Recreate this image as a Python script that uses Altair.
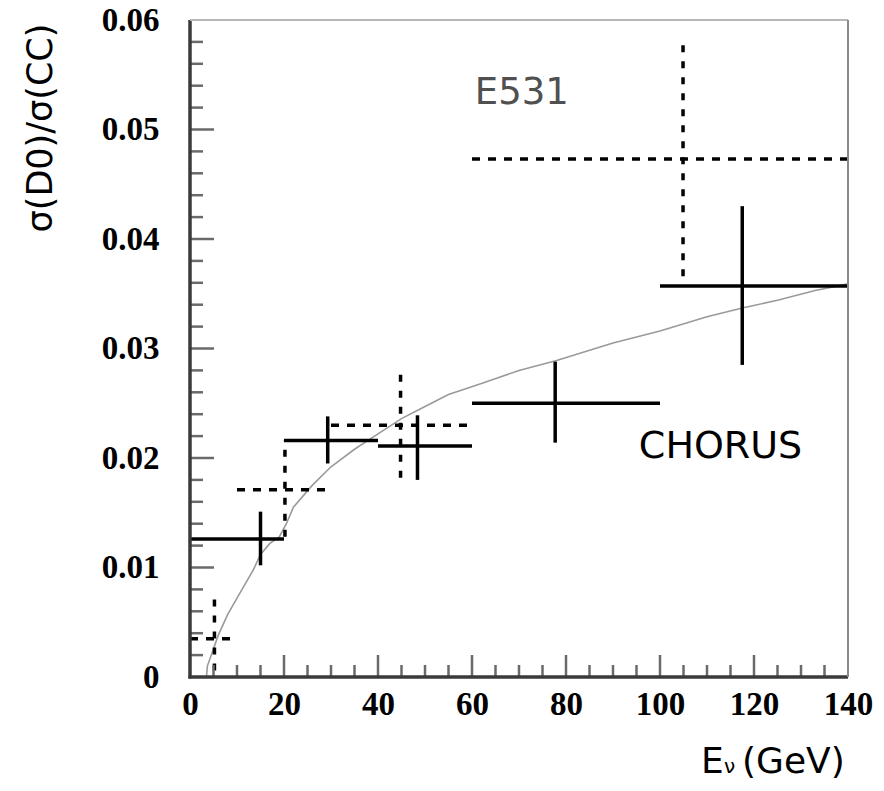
import altair as alt
import pandas as pd

# ---------------- data ----------------
# CHORUS (solid crosses)
chorus_x = [15.0, 29.3, 48.4, 77.7, 117.5]
chorus_xlo = [0, 20, 40, 60, 100]
chorus_xhi = [20, 40, 60, 100, 140]
chorus_y = [0.0126, 0.0216, 0.0211, 0.0250, 0.0357]
chorus_ylo = [0.0102, 0.0195, 0.0180, 0.0214, 0.0285]
chorus_yhi = [0.0151, 0.0238, 0.0239, 0.0288, 0.0430]

# E531 (dashed crosses)
e531_x = [5.2, 20.2, 44.8, 104.9]
e531_xlo = [0, 10, 30, 60]
e531_xhi = [10, 30, 60, 140]
e531_y = [0.0035, 0.0171, 0.0230, 0.0473]
e531_ylo = [0.0006, 0.0128, 0.0182, 0.0366]
e531_yhi = [0.0079, 0.0216, 0.0279, 0.0579]

# theory curve (gray)
curve_x = [3.5, 3.7, 6, 8, 10, 13.5, 15, 17, 19, 20.5, 22, 26, 30, 35, 40, 45,
           50, 55, 62, 70, 78, 90, 100, 110, 117.5, 125, 133, 140]
curve_y = [0.0, 0.0010, 0.0038, 0.0057, 0.0072, 0.0098, 0.0112, 0.0122, 0.0128,
           0.0140, 0.0155, 0.0175, 0.0192, 0.0208, 0.0222, 0.0236, 0.0247, 0.0258,
           0.0268, 0.0280, 0.0289, 0.0305, 0.0316, 0.0329, 0.0337, 0.0344, 0.0353,
           0.0359]

# axis ticks / labels
x_labels = [0, 20, 40, 60, 80, 100, 120, 140]
y_labels = [0, 0.01, 0.02, 0.03, 0.04, 0.05, 0.06]
x_major_ticks = [20, 40, 60, 80, 100, 120]
x_minor_ticks = [5, 10, 15, 25, 30, 35, 45, 50, 55, 65, 70, 75, 85, 90, 95,
                 105, 110, 115, 125, 130, 135]
y_major_ticks = [0.01, 0.02, 0.03, 0.04, 0.05]
y_minor_ticks = [0.002, 0.004, 0.006, 0.008, 0.012, 0.014, 0.016, 0.018,
                 0.022, 0.024, 0.026, 0.028, 0.032, 0.034, 0.036, 0.038,
                 0.042, 0.044, 0.046, 0.048, 0.052, 0.054, 0.056, 0.058]

W, H = 658, 657

chorus = pd.DataFrame(dict(x=chorus_x, xlo=chorus_xlo, xhi=chorus_xhi,
                           y=chorus_y, ylo=chorus_ylo, yhi=chorus_yhi))
e531 = pd.DataFrame(dict(x=e531_x, xlo=e531_xlo, xhi=e531_xhi,
                         y=e531_y, ylo=e531_ylo, yhi=e531_yhi))
curve = pd.DataFrame(dict(x=curve_x, y=curve_y))

xs = alt.Scale(domain=[0, 140], nice=False, zero=False)
ys = alt.Scale(domain=[0, 0.06], nice=False, zero=False)

label_expr = "datum.value == 0 ? '0' : format(datum.value, '.2f')"

xaxis = alt.Axis(values=x_labels, ticks=False, tickSize=0, domain=False, grid=False,
                 labelFont="Liberation Serif", labelFontWeight="bold",
                 labelFontSize=33, labelColor="black", labelPadding=11,
                 labelFlush=False, labelOverlap=False, title=None)
yaxis = alt.Axis(values=y_labels, ticks=False, tickSize=0, domain=False, grid=False,
                 labelFont="Liberation Serif", labelFontWeight="bold",
                 labelFontSize=33, labelColor="black", labelPadding=31,
                 labelExpr=label_expr, labelFlush=False, labelOverlap=False,
                 title=None)

base_curve = alt.Chart(curve).mark_line(color="#9a9a9a", strokeWidth=1.6).encode(
    x=alt.X("x:Q", scale=xs, axis=xaxis),
    y=alt.Y("y:Q", scale=ys, axis=yaxis),
)

ch_h = alt.Chart(chorus).mark_rule(color="black", strokeWidth=3.5).encode(
    x=alt.X("xlo:Q", scale=xs), x2="xhi:Q", y=alt.Y("y:Q", scale=ys))
ch_v = alt.Chart(chorus).mark_rule(color="black", strokeWidth=3.5).encode(
    x=alt.X("x:Q", scale=xs), y=alt.Y("ylo:Q", scale=ys), y2="yhi:Q")

e_h = alt.Chart(e531).mark_rule(color="black", strokeWidth=3.5,
                                strokeDash=[8, 8]).encode(
    x=alt.X("xlo:Q", scale=xs), x2="xhi:Q", y=alt.Y("y:Q", scale=ys))
e_v = alt.Chart(e531).mark_rule(color="black", strokeWidth=3.5,
                                strokeDash=[7, 9]).encode(
    x=alt.X("x:Q", scale=xs), y=alt.Y("ylo:Q", scale=ys), y2="yhi:Q")

tick_color = "#6a6a6a"
xt_major = alt.Chart(pd.DataFrame(dict(v=x_major_ticks))).mark_rule(
    color=tick_color, strokeWidth=2.5).encode(
    x=alt.X("v:Q", scale=xs), y=alt.value(H), y2=alt.value(H - 22))
xt_minor = alt.Chart(pd.DataFrame(dict(v=x_minor_ticks))).mark_rule(
    color=tick_color, strokeWidth=2.5).encode(
    x=alt.X("v:Q", scale=xs), y=alt.value(H), y2=alt.value(H - 12))
yt_major = alt.Chart(pd.DataFrame(dict(v=y_major_ticks))).mark_rule(
    color=tick_color, strokeWidth=2.5).encode(
    y=alt.Y("v:Q", scale=ys), x=alt.value(0), x2=alt.value(24))
yt_minor = alt.Chart(pd.DataFrame(dict(v=y_minor_ticks))).mark_rule(
    color=tick_color, strokeWidth=2.5).encode(
    y=alt.Y("v:Q", scale=ys), x=alt.value(0), x2=alt.value(13))

# frame
one = pd.DataFrame(dict(k=[0]))
left_ax = alt.Chart(one).mark_rule(color="#3a3a3a", strokeWidth=3.5).encode(
    x=alt.value(0), y=alt.value(0), y2=alt.value(H + 1.5))
bottom_ax = alt.Chart(one).mark_rule(color="#3a3a3a", strokeWidth=3.5).encode(
    x=alt.value(-1.5), x2=alt.value(W), y=alt.value(H))
top_ax = alt.Chart(one).mark_rule(color="#b8b8b8", strokeWidth=2).encode(
    x=alt.value(0), x2=alt.value(W), y=alt.value(0))
right_ax = alt.Chart(one).mark_rule(color="#8a8a8a", strokeWidth=2).encode(
    x=alt.value(W), y=alt.value(0), y2=alt.value(H))

# annotations
ann = pd.DataFrame(dict(x=[60.6, 95.5], y=[0.0533, 0.0210],
                        t=["E531", "CHORUS"]))
e_txt = alt.Chart(ann.iloc[[0]]).mark_text(
    font="DejaVu Sans", fontSize=37, align="left", baseline="middle",
    color="#505050").encode(x=alt.X("x:Q", scale=xs), y=alt.Y("y:Q", scale=ys),
                            text="t:N")
c_txt = alt.Chart(ann.iloc[[1]]).mark_text(
    font="DejaVu Sans", fontSize=38, align="left", baseline="middle",
    color="black").encode(x=alt.X("x:Q", scale=xs), y=alt.Y("y:Q", scale=ys),
                          text="t:N")

ytitle = alt.Chart(one).mark_text(
    text="σ(D0)/σ(CC)", font="DejaVu Sans", fontSize=35, angle=270,
    align="center", baseline="middle", color="black").encode(
    x=alt.value(41 - 190), y=alt.value(128 - 20))

xt_E = alt.Chart(one).mark_text(
    text="E", font="DejaVu Sans", fontSize=36, align="left",
    baseline="alphabetic", color="black").encode(
    x=alt.value(511), y=alt.value(753))
xt_nu = alt.Chart(one).mark_text(
    text="ν", font="DejaVu Sans", fontSize=20, align="left",
    baseline="alphabetic", color="black").encode(
    x=alt.value(534), y=alt.value(753))
xt_gev = alt.Chart(one).mark_text(
    text="(GeV)", font="DejaVu Sans", fontSize=36, align="left",
    baseline="alphabetic", color="black").encode(
    x=alt.value(552), y=alt.value(753))

chart = alt.layer(
    base_curve, e_h, e_v, ch_h, ch_v,
    xt_major, xt_minor, yt_major, yt_minor,
    left_ax, bottom_ax, top_ax, right_ax,
    e_txt, c_txt, ytitle, xt_E, xt_nu, xt_gev,
).properties(
    width=W, height=H,
    autosize=alt.AutoSizeParams(type="none"),
    padding={"left": 190, "top": 20, "right": 36, "bottom": 114},
    background="white",
).configure_view(stroke=None)

chart.save("out.html", embed_options={"renderer": "svg", "actions": False})
